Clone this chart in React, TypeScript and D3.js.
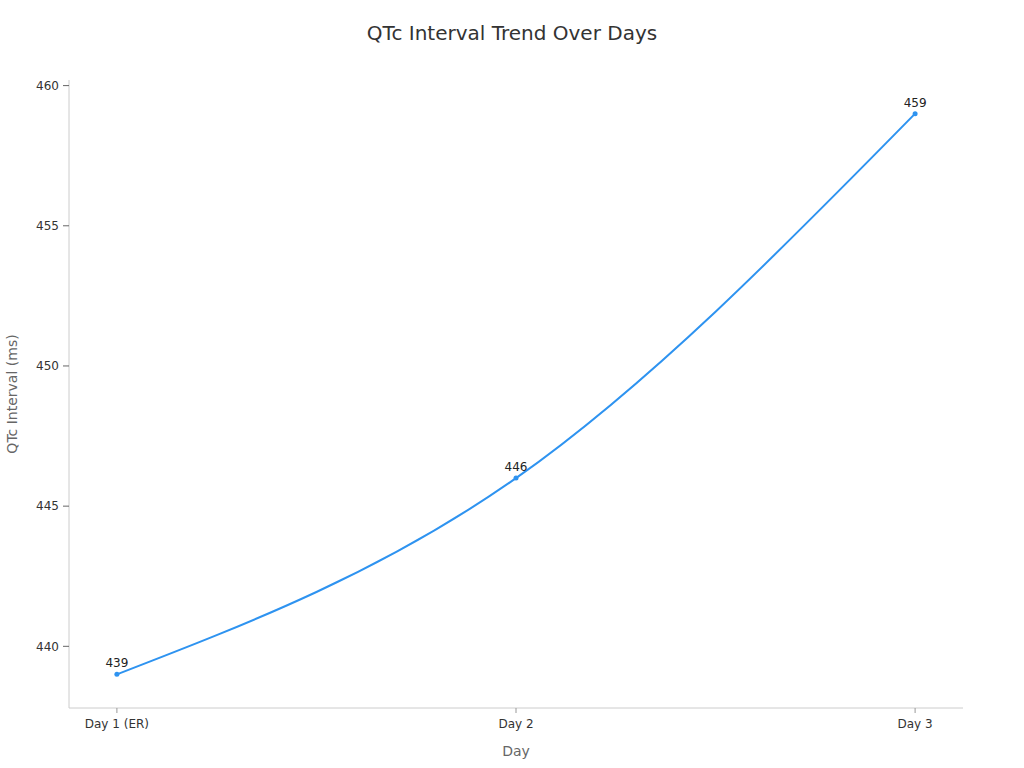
import React from 'react';
import * as d3 from 'd3';

// Chart data
const days = ['Day 1 (ER)', 'Day 2', 'Day 3'];
const qtcValues = [439, 446, 459];
const yTicks = [440, 445, 450, 455, 460];

const WIDTH = 1024;
const HEIGHT = 768;
const margin = { top: 80, right: 61, bottom: 60, left: 69 };
const FONT = 'DejaVu Sans, sans-serif';

export default function App() {
  const chartW = WIDTH - margin.left - margin.right;
  const chartH = HEIGHT - margin.top - margin.bottom;

  const x = d3.scalePoint<string>().domain(days).range([0, chartW]).padding(0.12);
  const y = d3.scaleLinear().domain([437.8, 460.2]).range([chartH, 0]);

  const points = days.map((d, i) => ({ day: d, value: qtcValues[i] }));
  const line = d3
    .line<{ day: string; value: number }>()
    .x((d) => x(d.day) ?? 0)
    .y((d) => y(d.value))
    .curve(d3.curveMonotoneX);

  return (
    <div style={{ position: 'absolute', left: 0, top: 0 }}>
      <svg width={WIDTH} height={HEIGHT} style={{ display: 'block', fontFamily: FONT }}>
        <rect width={WIDTH} height={HEIGHT} fill="#fff" />
        <text x={WIDTH / 2} y={40} textAnchor="middle" fontSize={20} fill="#333">
          QTc Interval Trend Over Days
        </text>
        <g transform={`translate(${margin.left},${margin.top})`}>
          {/* y axis */}
          <line x1={0} x2={0} y1={0} y2={chartH} stroke="#ccc" />
          {yTicks.map((t) => (
            <g key={t} transform={`translate(0,${y(t)})`}>
              <line x1={-6} x2={0} stroke="#666" />
              <text x={-10} dy="0.35em" textAnchor="end" fontSize={12} fill="#333">
                {t}
              </text>
            </g>
          ))}
          {/* x axis */}
          <line x1={0} x2={chartW} y1={chartH} y2={chartH} stroke="#ccc" />
          {days.map((d) => (
            <g key={d} transform={`translate(${x(d)},${chartH})`}>
              <line y1={0} y2={5} stroke="#999" />
              <text y={20} textAnchor="middle" fontSize={12} fill="#333">
                {d}
              </text>
            </g>
          ))}
          {/* series */}
          <path d={line(points) ?? ''} fill="none" stroke="#2e93f0" strokeWidth={2} />
          {points.map((p) => (
            <g key={p.day}>
              <circle cx={x(p.day)} cy={y(p.value)} r={2.5} fill="#2e93f0" />
              <text x={x(p.day)} y={y(p.value) - 7} textAnchor="middle" fontSize={12} fill="#222">
                {p.value}
              </text>
            </g>
          ))}
        </g>
        <text
          transform={`translate(17,${margin.top + chartH / 2}) rotate(-90)`}
          textAnchor="middle"
          fontSize={14}
          fill="#666"
        >
          QTc Interval (ms)
        </text>
        <text x={margin.left + chartW / 2} y={756} textAnchor="middle" fontSize={14} fill="#666">
          Day
        </text>
      </svg>
    </div>
  );
}
